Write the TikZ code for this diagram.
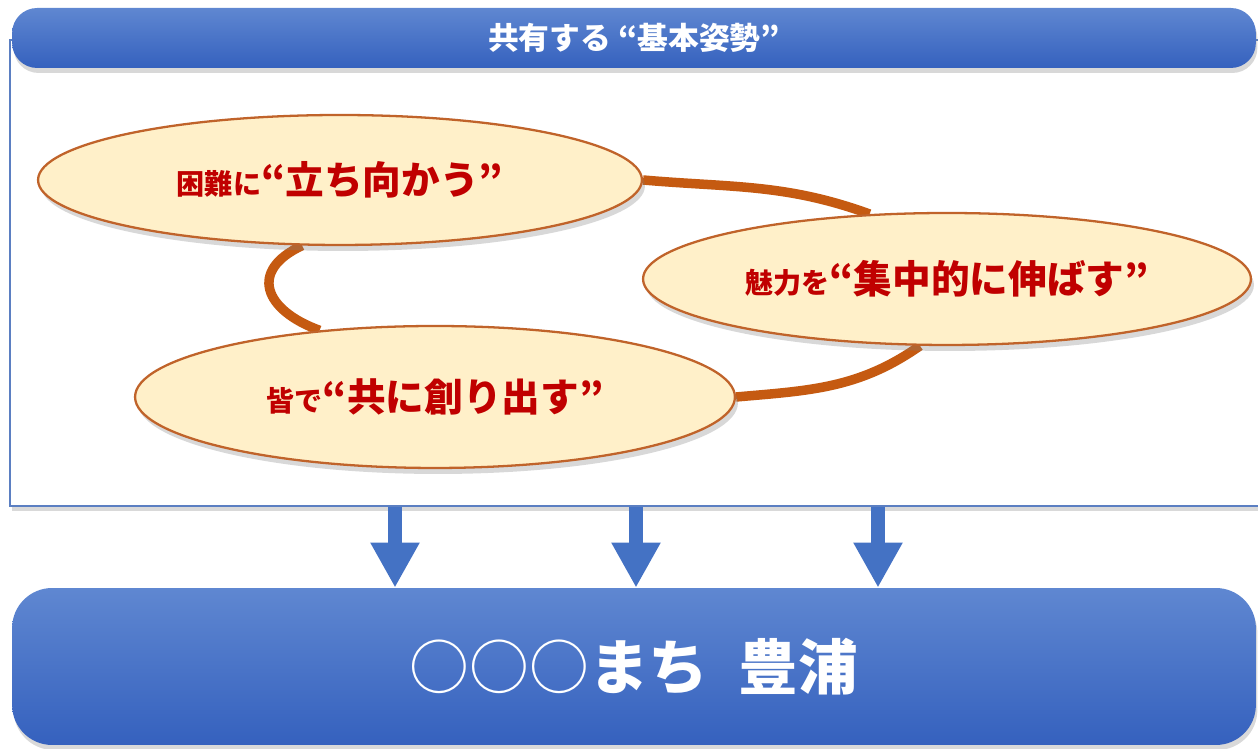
\documentclass[tikz,border=0pt]{standalone}
\usepackage{fontspec}
\newfontfamily\jpfont{Noto Sans CJK JP}
\usetikzlibrary{shapes.geometric,shadows,arrows.meta}

\pgfdeclarelayer{frame}
\pgfdeclarelayer{back}
\pgfsetlayers{frame,back,main}

\definecolor{bartop}{HTML}{5F87D1}
\definecolor{barbot}{HTML}{3561BE}
\definecolor{framec}{HTML}{5B7FC2}
\definecolor{arrowc}{HTML}{4472C4}
\definecolor{cream}{HTML}{FFF0C9}
\definecolor{rim}{HTML}{C0632A}
\definecolor{ringc}{HTML}{C55A11}
\definecolor{deepred}{HTML}{C00000}

\newcommand\leadtxt[1]{{\fontsize{16}{18}\selectfont #1}}
\newcommand\keytxt[1]{{\fontsize{22}{24}\selectfont #1}}

\begin{document}
\begin{tikzpicture}[x=0.02cm,y=0.02cm]
  \tikzstyle{bar} = [rectangle, top color=bartop, bottom color=barbot, text=white,
    font=\jpfont\bfseries, minimum width=24.88cm, inner sep=0pt,
    drop shadow={shadow xshift=0.03cm, shadow yshift=-0.1cm, opacity=0.3}]
  \tikzstyle{idea} = [ellipse, draw=rim, line width=1.3pt, fill=cream, text=deepred,
    font=\jpfont\bfseries, inner sep=0pt,
    drop shadow={shadow xshift=0.06cm, shadow yshift=-0.12cm, opacity=0.3}]
  \tikzstyle{ring} = [draw=ringc, line width=0.19cm]
  \tikzstyle{down} = [draw=arrowc, line width=0.28cm, -{Triangle[width=0.92cm,length=0.9cm]}]

  \useasboundingbox (0,0) rectangle (1258,749);

  % box behind everything
  \begin{pgfonlayer}{frame}
    \node[draw=framec, line width=1pt, fill=white, minimum width=25.12cm,
      minimum height=9.32cm, drop shadow={shadow xshift=0.04cm, shadow yshift=-0.1cm, opacity=0.3}]
      (frame) at (638,476) {};
  \end{pgfonlayer}

  \node[bar, rounded corners=0.5cm, minimum height=1.2cm] (head) at (634,711)
    {\fontsize{17.5}{20}\selectfont 共有する “基本姿勢”};

  \node[idea, minimum width=12.08cm, minimum height=2.6cm] (e1) at (340,569)
    {\leadtxt{困難に}\keytxt{“立ち向かう”}};
  \node[idea, minimum width=12.16cm, minimum height=2.64cm] (e2) at (947,470)
    {\leadtxt{魅力を}\keytxt{“集中的に伸ばす”}};
  \node[idea, minimum width=12cm, minimum height=2.84cm] (e3) at (435,352)
    {\leadtxt{皆で}\keytxt{“共に創り出す”}};

  % ring joining the three ideas
  \begin{pgfonlayer}{back}
    \path[ring]
    (e1.east) edge[out=-5, in=160] (e2.140)
    (e1.240) edge[out=205, in=160, looseness=1.75] (e3.150)
    (e3.east) edge[out=5, in=215] (e2.248);
  \end{pgfonlayer}

  \node[bar, rounded corners=0.8cm, minimum height=3.14cm] (town) at (634,82.5)
    {\fontsize{34}{38}\selectfont{\mdseries ○○○}まち\hspace{0.6cm}豊浦};

  \foreach \dx [count=\i] in {-243,-2,240}{
    \path (frame.south) ++(\dx,0) coordinate (s\i);
    \draw[down] (s\i) -- (s\i |- town.north);
  }
\end{tikzpicture}
\end{document}
